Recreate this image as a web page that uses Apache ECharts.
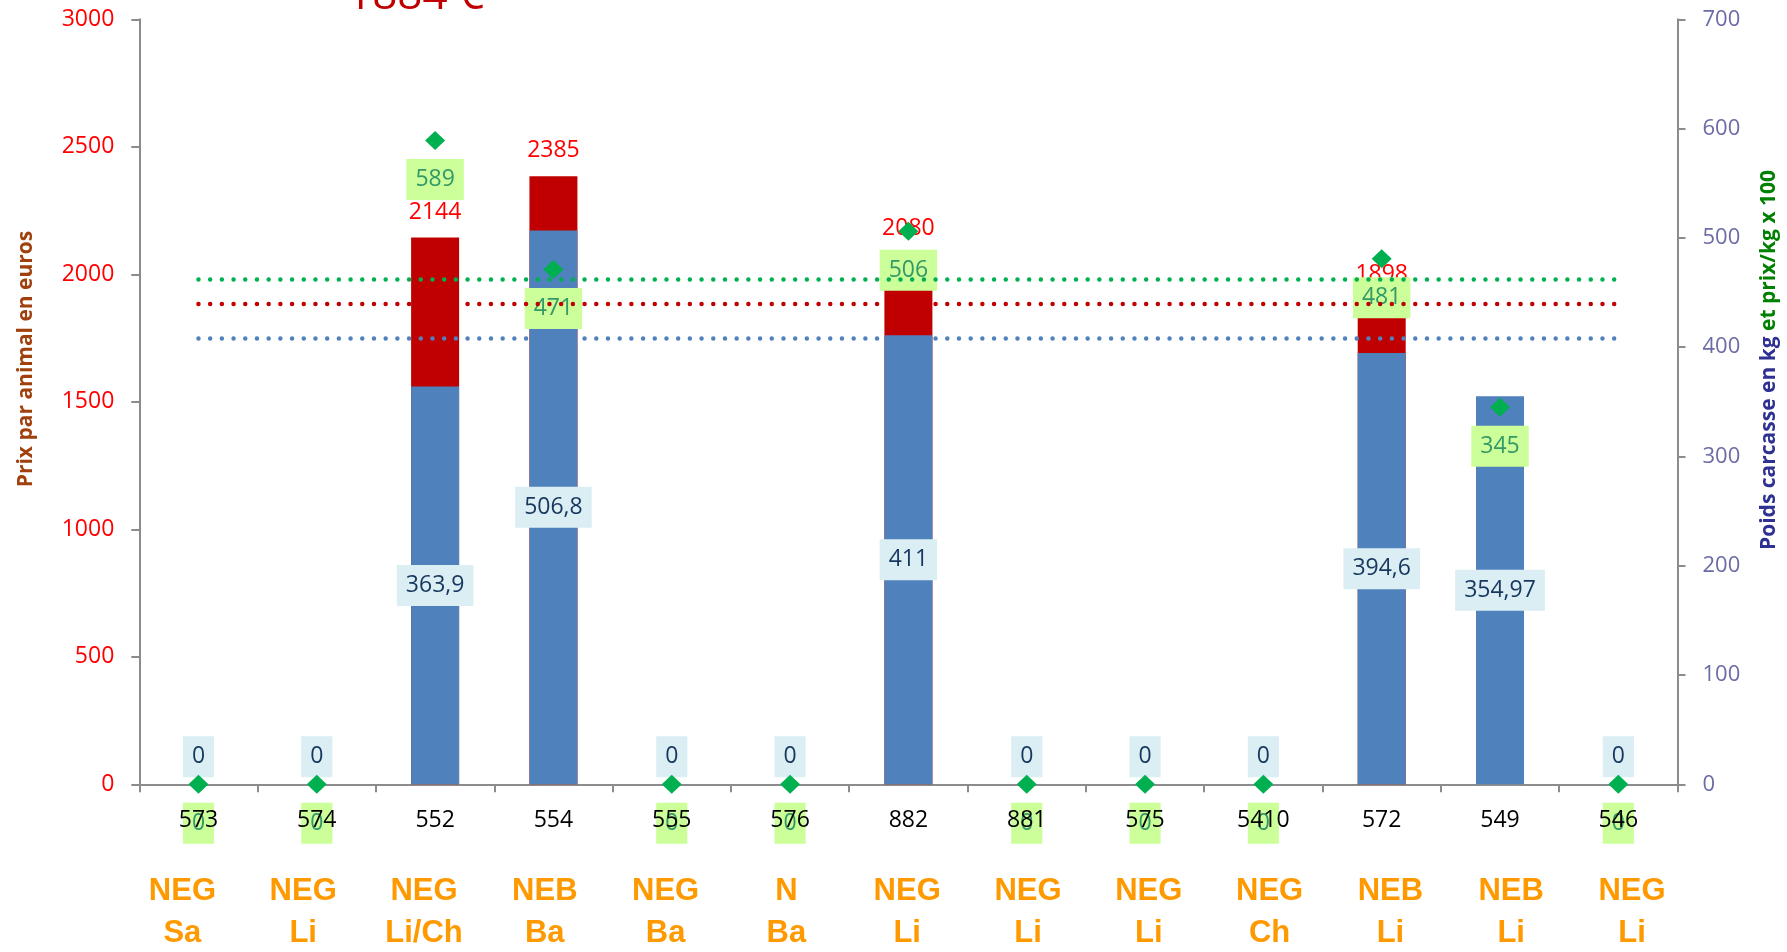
<!DOCTYPE html>
<html>
<head>
<meta charset="utf-8">
<script src="https://cdn.jsdelivr.net/npm/echarts@6/dist/echarts.min.js"></script>
<style>
html,body{margin:0;padding:0;background:#fff;}
#chart{width:1787px;height:952px;}
</style>
</head>
<body>
<div id="chart"></div>
<script>
// ---- data ----
const categories = ['573','574','552','554','555','576','882','881','575','5410','572','549','546'];
const typeLabels = ['NEG','NEG','NEG','NEB','NEG','N','NEG','NEG','NEG','NEG','NEB','NEB','NEG'];
const breedLabels = ['Sa','Li','Li/Ch','Ba','Ba','Ba','Li','Li','Li','Ch','Li','Li','Li'];
const prixAnimal = [null,null,2144,2385,null,null,2080,null,null,null,1898,null,null];
const poidsCarcasse = [0,0,363.9,506.8,0,0,411,0,0,0,394.6,354.97,0];
const prixKg100 = [0,0,589,471,0,0,506,0,0,0,481,345,0];
const moyennePoids = 408;
const moyennePrix = 1884;
const moyennePrixKg = 462;
const titleText = '1884 €';
const leftAxisName = 'Prix par animal en euros';
const rightAxisNamePart1 = 'Poids carcasse en kg';
const rightAxisNamePart2 = ' et prix/kg x 100';

const FONT = '"Open Sans", "Noto Sans", sans-serif';
const fmtComma = v => String(v).replace('.', ',');

const chart = echarts.init(document.getElementById('chart'));

const gridLeft = 139.3, gridRight = 109.5, gridTop = 19.3, gridBottom = 167.7;

const option = {
  animation: false,
  backgroundColor: '#ffffff',
  grid: [
    {left: gridLeft, right: gridRight, top: gridTop, bottom: gridBottom, containLabel: false, outerBoundsMode: 'none'},
    {left: 122, width: 1570.4, top: gridTop, bottom: gridBottom, containLabel: false, outerBoundsMode: 'none'}
  ],
  xAxis: [
    {
      type: 'category', gridIndex: 0, position: 'bottom', data: categories, boundaryGap: true,
      axisLine: {lineStyle: {color: '#8c8c8c', width: 2}},
      axisTick: {show: true, length: 8, lineStyle: {color: '#8c8c8c', width: 2}},
      axisLabel: {show: false},
      splitLine: {show: false}
    },
    {
      type: 'category', gridIndex: 0, position: 'bottom', data: categories, boundaryGap: true, z: 20,
      axisLine: {show: false, onZero: false}, axisTick: {show: false}, splitLine: {show: false},
      axisLabel: {show: true, interval: 0, margin: 24, color: '#000000', fontSize: 23, fontFamily: FONT, lineHeight: 24}
    },
    {
      type: 'category', gridIndex: 1, position: 'bottom', data: categories, boundaryGap: true,
      axisLine: {show: false, onZero: false}, axisTick: {show: false}, splitLine: {show: false},
      axisLabel: {
        show: true, interval: 0, margin: 86,
        formatter: (v, i) => '{c|' + typeLabels[i] + '}\n{c|' + breedLabels[i] + '}',
        rich: {c: {color: '#ff9900', fontSize: 31, fontWeight: 'bold', fontFamily: '"Liberation Sans", Arial, sans-serif', lineHeight: 42, align: 'center'}}
      }
    }
  ],
  yAxis: [
    {
      type: 'value', gridIndex: 0, position: 'left', min: 0, max: 3000, interval: 500,
      axisLine: {show: true, lineStyle: {color: '#8c8c8c', width: 2}},
      axisTick: {show: true, length: 8, lineStyle: {color: '#8c8c8c', width: 2}},
      axisLabel: {color: '#ff0000', fontSize: 23, fontFamily: FONT, margin: 25, formatter: v => String(v)},
      splitLine: {show: false}
    },
    {
      type: 'value', gridIndex: 0, position: 'right', min: 0, max: 700, interval: 100,
      axisLine: {show: true, lineStyle: {color: '#8c8c8c', width: 2}},
      axisTick: {show: true, length: 8, lineStyle: {color: '#8c8c8c', width: 2}},
      axisLabel: {color: '#6b6ba6', fontSize: 22, fontFamily: FONT, margin: 25, formatter: v => String(v)},
      splitLine: {show: false}
    },
    {type: 'value', gridIndex: 1, show: false, min: 0, max: 1}
  ],
  series: [
    {
      name: 'Prix', type: 'bar', xAxisIndex: 0, yAxisIndex: 0,
      data: prixAnimal, barWidth: 48, barGap: '-100%',
      itemStyle: {color: '#c00000'},
      label: {show: true, position: 'top', distance: 14, color: '#ff0000', fontSize: 23, fontFamily: FONT, lineHeight: 23}
    },
    {
      name: 'Poids', type: 'bar', xAxisIndex: 0, yAxisIndex: 1,
      barWidth: 48, barGap: '-100%',
      data: poidsCarcasse.map(v => ({
        value: v,
        label: v === 0 ? {position: 'top', distance: 7} : {position: 'inside'}
      })),
      itemStyle: {color: '#4f81bd'},
      label: {
        show: true, formatter: p => fmtComma(p.value),
        color: '#17375e', fontSize: 23, fontFamily: FONT, lineHeight: 23,
        backgroundColor: '#dbeef4', padding: [9, 9, 9, 9]
      }
    },
    {
      name: 'Moyenne poids', type: 'line', xAxisIndex: 0, yAxisIndex: 1,
      data: categories.map(() => moyennePoids), symbol: 'none', silent: true,
      lineStyle: {color: '#4f81bd', width: 4.5, type: [0, 11.7], cap: 'round'}
    },
    {
      name: 'Moyenne prix', type: 'line', xAxisIndex: 0, yAxisIndex: 0,
      data: categories.map(() => moyennePrix), symbol: 'none', silent: true,
      lineStyle: {color: '#c00000', width: 4.5, type: [0, 11.7], cap: 'round'}
    },
    {
      name: 'Moyenne prix/kg', type: 'line', xAxisIndex: 0, yAxisIndex: 1,
      data: categories.map(() => moyennePrixKg), symbol: 'none', silent: true,
      lineStyle: {color: '#00b050', width: 4.5, type: [0, 11.7], cap: 'round'}
    },
    {
      name: 'Prix/kg x 100', type: 'scatter', xAxisIndex: 0, yAxisIndex: 1,
      data: prixKg100, symbol: 'diamond', symbolSize: [20, 19],
      itemStyle: {color: '#00b050', opacity: 1},
      label: {
        show: true, position: 'bottom', distance: 9,
        color: '#339966', fontSize: 23, fontFamily: FONT, lineHeight: 23,
        backgroundColor: '#ccff99', padding: [9, 9, 9, 9]
      }
    }
  ],
  graphic: [
    {
      type: 'text', x: 347, y: -4,
      style: {text: titleText, fill: '#c00000', font: '44px "Open Sans", sans-serif', textAlign: 'left', textVerticalAlign: 'middle'}
    },
    {
      type: 'text', x: 26, y: 359, rotation: Math.PI / 2,
      style: {text: leftAxisName, fill: '#a0410d', font: 'bold 21px "Open Sans", sans-serif', textAlign: 'center', textVerticalAlign: 'middle'}
    },
    {
      type: 'text', x: 1769, y: 360, rotation: Math.PI / 2,
      style: {
        text: '{a|' + rightAxisNamePart1 + '}{b|' + rightAxisNamePart2 + '}',
        textAlign: 'center', textVerticalAlign: 'middle',
        rich: {
          a: {fill: '#2e3192', color: '#2e3192', fontWeight: 'bold', fontSize: 21, fontFamily: '"Open Sans", sans-serif'},
          b: {fill: '#008000', color: '#008000', fontWeight: 'bold', fontSize: 21, fontFamily: '"Open Sans", sans-serif'}
        }
      }
    }
  ]
};
chart.setOption(option);
</script>
</body>
</html>
